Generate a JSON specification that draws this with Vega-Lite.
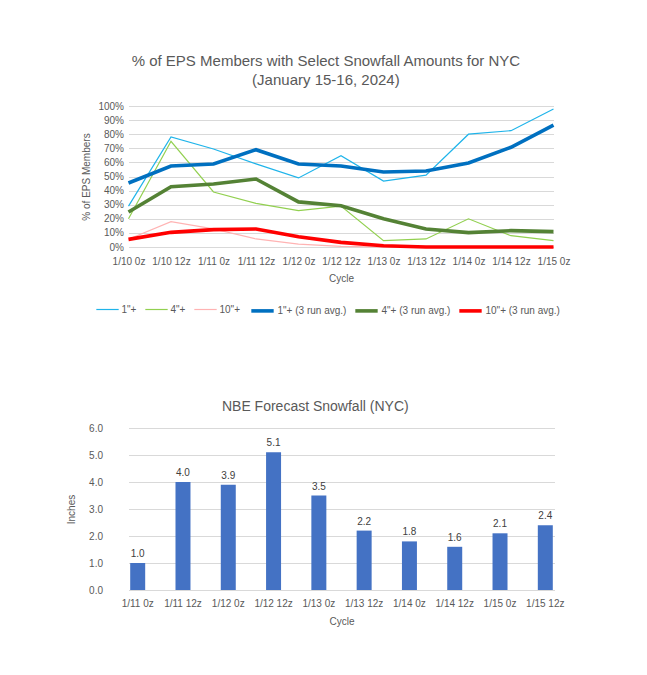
{
  "$schema": "https://vega.github.io/schema/vega-lite/v6.json",
  "padding": {"left": 66.5, "top": 54, "right": 5, "bottom": 5},
  "spacing": 117,
  "config": {
    "font": "Liberation Sans",
    "view": {"stroke": null},
    "axis": {"labelColor": "#595959", "titleColor": "#595959", "labelFontSize": 10, "titleFontSize": 10, "titleFontWeight": "normal", "gridColor": "#d9d9d9", "domainColor": "#d9d9d9", "ticks": false},
    "legend": {"labelColor": "#595959", "labelFontSize": 10},
    "title": {"color": "#595959", "fontWeight": "normal"}
  },
  "datasets": {
    "eps": [
      {"cycle": "1/10 0z", "series": "1\"+", "value": 0.29},
      {"cycle": "1/10 12z", "series": "1\"+", "value": 0.78},
      {"cycle": "1/11 0z", "series": "1\"+", "value": 0.695},
      {"cycle": "1/11 12z", "series": "1\"+", "value": 0.59},
      {"cycle": "1/12 0z", "series": "1\"+", "value": 0.49},
      {"cycle": "1/12 12z", "series": "1\"+", "value": 0.648},
      {"cycle": "1/13 0z", "series": "1\"+", "value": 0.468},
      {"cycle": "1/13 12z", "series": "1\"+", "value": 0.51},
      {"cycle": "1/14 0z", "series": "1\"+", "value": 0.80},
      {"cycle": "1/14 12z", "series": "1\"+", "value": 0.825},
      {"cycle": "1/15 0z", "series": "1\"+", "value": 0.979},
      {"cycle": "1/10 0z", "series": "4\"+", "value": 0.20},
      {"cycle": "1/10 12z", "series": "4\"+", "value": 0.75},
      {"cycle": "1/11 0z", "series": "4\"+", "value": 0.39},
      {"cycle": "1/11 12z", "series": "4\"+", "value": 0.31},
      {"cycle": "1/12 0z", "series": "4\"+", "value": 0.258},
      {"cycle": "1/12 12z", "series": "4\"+", "value": 0.29},
      {"cycle": "1/13 0z", "series": "4\"+", "value": 0.045},
      {"cycle": "1/13 12z", "series": "4\"+", "value": 0.057},
      {"cycle": "1/14 0z", "series": "4\"+", "value": 0.20},
      {"cycle": "1/14 12z", "series": "4\"+", "value": 0.08},
      {"cycle": "1/15 0z", "series": "4\"+", "value": 0.045},
      {"cycle": "1/10 0z", "series": "10\"+", "value": 0.055},
      {"cycle": "1/10 12z", "series": "10\"+", "value": 0.18},
      {"cycle": "1/11 0z", "series": "10\"+", "value": 0.128},
      {"cycle": "1/11 12z", "series": "10\"+", "value": 0.057},
      {"cycle": "1/12 0z", "series": "10\"+", "value": 0.02},
      {"cycle": "1/12 12z", "series": "10\"+", "value": 0.005},
      {"cycle": "1/13 0z", "series": "10\"+", "value": 0},
      {"cycle": "1/13 12z", "series": "10\"+", "value": 0},
      {"cycle": "1/14 0z", "series": "10\"+", "value": 0},
      {"cycle": "1/14 12z", "series": "10\"+", "value": 0},
      {"cycle": "1/15 0z", "series": "10\"+", "value": 0},
      {"cycle": "1/10 0z", "series": "1\"+ (3 run avg.)", "value": 0.454},
      {"cycle": "1/10 12z", "series": "1\"+ (3 run avg.)", "value": 0.574},
      {"cycle": "1/11 0z", "series": "1\"+ (3 run avg.)", "value": 0.589},
      {"cycle": "1/11 12z", "series": "1\"+ (3 run avg.)", "value": 0.69},
      {"cycle": "1/12 0z", "series": "1\"+ (3 run avg.)", "value": 0.589},
      {"cycle": "1/12 12z", "series": "1\"+ (3 run avg.)", "value": 0.574},
      {"cycle": "1/13 0z", "series": "1\"+ (3 run avg.)", "value": 0.532},
      {"cycle": "1/13 12z", "series": "1\"+ (3 run avg.)", "value": 0.539},
      {"cycle": "1/14 0z", "series": "1\"+ (3 run avg.)", "value": 0.596},
      {"cycle": "1/14 12z", "series": "1\"+ (3 run avg.)", "value": 0.707},
      {"cycle": "1/15 0z", "series": "1\"+ (3 run avg.)", "value": 0.865},
      {"cycle": "1/10 0z", "series": "4\"+ (3 run avg.)", "value": 0.248},
      {"cycle": "1/10 12z", "series": "4\"+ (3 run avg.)", "value": 0.428},
      {"cycle": "1/11 0z", "series": "4\"+ (3 run avg.)", "value": 0.447},
      {"cycle": "1/11 12z", "series": "4\"+ (3 run avg.)", "value": 0.482},
      {"cycle": "1/12 0z", "series": "4\"+ (3 run avg.)", "value": 0.32},
      {"cycle": "1/12 12z", "series": "4\"+ (3 run avg.)", "value": 0.293},
      {"cycle": "1/13 0z", "series": "4\"+ (3 run avg.)", "value": 0.20},
      {"cycle": "1/13 12z", "series": "4\"+ (3 run avg.)", "value": 0.128},
      {"cycle": "1/14 0z", "series": "4\"+ (3 run avg.)", "value": 0.102},
      {"cycle": "1/14 12z", "series": "4\"+ (3 run avg.)", "value": 0.116},
      {"cycle": "1/15 0z", "series": "4\"+ (3 run avg.)", "value": 0.109},
      {"cycle": "1/10 0z", "series": "10\"+ (3 run avg.)", "value": 0.054},
      {"cycle": "1/10 12z", "series": "10\"+ (3 run avg.)", "value": 0.104},
      {"cycle": "1/11 0z", "series": "10\"+ (3 run avg.)", "value": 0.123},
      {"cycle": "1/11 12z", "series": "10\"+ (3 run avg.)", "value": 0.128},
      {"cycle": "1/12 0z", "series": "10\"+ (3 run avg.)", "value": 0.073},
      {"cycle": "1/12 12z", "series": "10\"+ (3 run avg.)", "value": 0.033},
      {"cycle": "1/13 0z", "series": "10\"+ (3 run avg.)", "value": 0.009},
      {"cycle": "1/13 12z", "series": "10\"+ (3 run avg.)", "value": 0},
      {"cycle": "1/14 0z", "series": "10\"+ (3 run avg.)", "value": 0},
      {"cycle": "1/14 12z", "series": "10\"+ (3 run avg.)", "value": 0},
      {"cycle": "1/15 0z", "series": "10\"+ (3 run avg.)", "value": 0}
    ],
    "nbe": [
      {"cycle": "1/11 0z", "inches": 1.0},
      {"cycle": "1/11 12z", "inches": 4.0},
      {"cycle": "1/12 0z", "inches": 3.9},
      {"cycle": "1/12 12z", "inches": 5.1},
      {"cycle": "1/13 0z", "inches": 3.5},
      {"cycle": "1/13 12z", "inches": 2.2},
      {"cycle": "1/14 0z", "inches": 1.8},
      {"cycle": "1/14 12z", "inches": 1.6},
      {"cycle": "1/15 0z", "inches": 2.1},
      {"cycle": "1/15 12z", "inches": 2.4}
    ]
  },
  "vconcat": [
    {
      "width": 425,
      "height": 141,
      "title": {"text": ["% of EPS Members with Select Snowfall Amounts for NYC", "(January 15-16, 2024)"], "fontSize": 15, "lineHeight": 19, "offset": 13, "frame": "bounds"},
      "data": {"name": "eps"},
      "encoding": {
        "x": {"field": "cycle", "type": "ordinal", "sort": ["1/10 0z", "1/10 12z", "1/11 0z", "1/11 12z", "1/12 0z", "1/12 12z", "1/13 0z", "1/13 12z", "1/14 0z", "1/14 12z", "1/15 0z"], "scale": {"type": "point", "padding": 0}, "axis": {"labelAngle": 0, "title": "Cycle", "grid": false, "domain": false, "labelPadding": 9, "titlePadding": 7}},
        "y": {"field": "value", "type": "quantitative", "scale": {"domain": [0, 1]}, "axis": {"values": [0, 0.1, 0.2, 0.3, 0.4, 0.5, 0.6, 0.7, 0.8, 0.9, 1], "format": ".0%", "title": "% of EPS Members", "domain": false, "labelPadding": 5, "titlePadding": 6}}
      },
      "layer": [
        {
          "transform": [{"filter": {"field": "series", "oneOf": ["1\"+", "4\"+", "10\"+"]}}],
          "mark": {"type": "line", "strokeWidth": 1.2},
          "encoding": {
            "stroke": {"field": "series", "type": "nominal", "scale": {"domain": ["1\"+", "4\"+", "10\"+"], "range": ["#1fb4ea", "#92d050", "#ffb3b3"]}, "legend": {"title": null, "orient": "none", "legendX": -33, "legendY": 191.5, "direction": "horizontal", "columns": 3, "symbolType": "stroke", "symbolSize": 500, "symbolStrokeWidth": 1.2, "columnPadding": 6, "labelOffset": 2}}
          }
        },
        {
          "transform": [{"filter": {"field": "series", "oneOf": ["1\"+ (3 run avg.)", "4\"+ (3 run avg.)", "10\"+ (3 run avg.)"]}}],
          "mark": {"type": "line", "strokeWidth": 3.6},
          "encoding": {
            "color": {"field": "series", "type": "nominal", "scale": {"domain": ["1\"+ (3 run avg.)", "4\"+ (3 run avg.)", "10\"+ (3 run avg.)"], "range": ["#0070c0", "#548235", "#ff0000"]}, "legend": {"title": null, "orient": "none", "legendX": 121, "legendY": 191.5, "direction": "horizontal", "columns": 3, "symbolType": "stroke", "symbolSize": 500, "symbolStrokeWidth": 3.6, "columnPadding": 1, "labelOffset": 2}}
          }
        }
      ]
    },
    {
      "width": 426,
      "height": 162,
      "title": {"text": "NBE Forecast Snowfall (NYC)", "fontSize": 14, "offset": 9, "frame": "bounds"},
      "data": {"name": "nbe"},
      "encoding": {
        "x": {"field": "cycle", "type": "ordinal", "sort": null, "scale": {"paddingInner": 0.669, "paddingOuter": 0.0375}, "axis": {"labelAngle": 0, "title": "Cycle", "labelPadding": 8, "titlePadding": 8}},
        "y": {"field": "inches", "type": "quantitative", "scale": {"domain": [0, 6]}, "axis": {"values": [0, 1, 2, 3, 4, 5, 6], "format": ".1f", "title": "Inches", "domain": false, "labelPadding": 26, "titlePadding": 12}}
      },
      "layer": [
        {"mark": {"type": "bar", "color": "#4472c4"}},
        {"mark": {"type": "text", "dy": -9, "fontSize": 10, "color": "#404040"}, "encoding": {"text": {"field": "inches", "type": "quantitative", "format": ".1f"}}}
      ]
    }
  ]
}
